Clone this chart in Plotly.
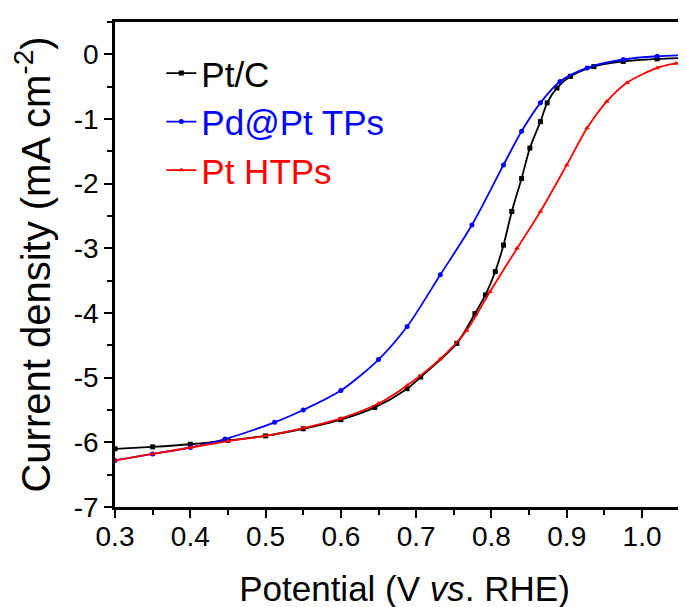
import plotly.graph_objects as go

# Pt/C (black)
ptc_x = [0.30, 0.35, 0.40, 0.45, 0.50, 0.55, 0.60, 0.645, 0.688, 0.706, 0.754, 0.778, 0.792, 0.805,
         0.816, 0.827, 0.840, 0.851, 0.865, 0.874, 0.887, 0.905, 0.936, 0.975, 1.02, 1.069]
ptc_y = [-6.10, -6.07, -6.03, -5.97, -5.90, -5.79, -5.65, -5.46, -5.17, -4.99, -4.47, -4.01, -3.72, -3.36,
         -2.95, -2.43, -1.92, -1.45, -1.04, -0.75, -0.52, -0.34, -0.19, -0.11, -0.07, -0.05]

# Pd@Pt TPs (blue)
pdpt_x = [0.30, 0.35, 0.40, 0.446, 0.512, 0.55, 0.60, 0.65, 0.688, 0.732, 0.774, 0.816, 0.840,
          0.865, 0.891, 0.927, 0.975, 1.02, 1.069]
pdpt_y = [-6.28, -6.18, -6.08, -5.95, -5.69, -5.50, -5.20, -4.72, -4.21, -3.41, -2.64, -1.71, -1.19,
          -0.75, -0.42, -0.21, -0.08, -0.03, -0.01]

# Pt HTPs (red)
pth_x = [0.30, 0.35, 0.40, 0.45, 0.50, 0.55, 0.60, 0.65, 0.688, 0.732, 0.767, 0.798, 0.834, 0.865,
         0.900, 0.927, 0.953, 0.980, 1.020, 1.045, 1.069]
pth_y = [-6.28, -6.18, -6.08, -5.98, -5.90, -5.78, -5.63, -5.40, -5.12, -4.71, -4.27, -3.67, -3.00, -2.43,
         -1.71, -1.14, -0.73, -0.44, -0.21, -0.14, -0.09]

x_ticks = [0.3, 0.4, 0.5, 0.6, 0.7, 0.8, 0.9, 1.0]
x_tick_labels = ["0.3", "0.4", "0.5", "0.6", "0.7", "0.8", "0.9", "1.0"]
y_ticks = [0, -1, -2, -3, -4, -5, -6, -7]
y_tick_labels = ["0", "-1", "-2", "-3", "-4", "-5", "-6", "-7"]

series = [
    ("Pt/C", ptc_x, ptc_y, "#000000", "square"),
    ("Pd@Pt TPs", pdpt_x, pdpt_y, "#0000FF", "circle"),
    ("Pt HTPs", pth_x, pth_y, "#FF0000", "triangle-up"),
]

FONT = "Liberation Sans, Arial, sans-serif"

fig = go.Figure()
for i, (name, xs, ys, col, sym) in enumerate(series):
    fig.add_trace(go.Scatter(
        x=xs, y=ys, mode="lines+markers",
        name=f"<span style='color:{col}'>{name}</span>",
        line=dict(color=col, width=1.8, shape="spline", smoothing=0.8),
        marker=dict(color=col, size=5, symbol=sym),
    ))

fig.update_layout(
    width=686, height=607,
    margin=dict(l=107, r=0, t=14, b=108),
    paper_bgcolor="white", plot_bgcolor="white",
    font=dict(family=FONT, size=28, color="black"),
    showlegend=True,
    legend=dict(x=0.08, y=0.955, xanchor="left", yanchor="top",
                bgcolor="rgba(0,0,0,0)", borderwidth=0,
                font=dict(family=FONT, size=35),
                traceorder="normal"),
    xaxis=dict(
        range=[0.3, 1.069], showgrid=False, zeroline=False, automargin=False,
        showline=True, linecolor="black", linewidth=2.5, mirror=True,
        ticks="outside", ticklen=8, tickwidth=2, tickcolor="black",
        tickvals=x_ticks, ticktext=x_tick_labels,
        tickfont=dict(family=FONT, size=28), ticklabelstandoff=-5,
        minor=dict(dtick=0.05, ticks="outside", ticklen=5, tickwidth=2, tickcolor="black"),
        title=dict(text="Potential (V <i>vs</i>. RHE)", font=dict(family=FONT, size=35), standoff=26),
    ),
    yaxis=dict(
        range=[-7, 0.5], showgrid=False, zeroline=False, automargin=False,
        showline=True, linecolor="black", linewidth=2.5,
        ticks="outside", ticklen=8, tickwidth=2, tickcolor="black",
        tickvals=y_ticks, ticktext=y_tick_labels,
        tickfont=dict(family=FONT, size=28),
        minor=dict(dtick=0.5, ticks="outside", ticklen=5, tickwidth=2, tickcolor="black"),
        title=dict(text="Current density (mA cm<sup>-2</sup>)", font=dict(family=FONT, size=40), standoff=12),
    ),
)

fig.write_html("out.html")
